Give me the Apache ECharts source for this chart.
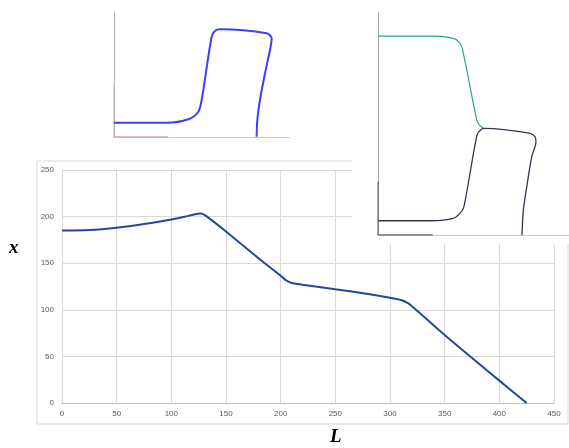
<!DOCTYPE html>
<html>
<head>
<meta charset="utf-8">
<script src="https://cdn.jsdelivr.net/npm/echarts@6/dist/echarts.min.js"></script>
<style>
  html, body { margin: 0; padding: 0; background: #fff; }
  #chart { width: 569px; height: 448px; }
</style>
</head>
<body>
<div id="chart"></div>
<script>
// main chart: L vs x
const mainL = [0, 25, 50, 75, 100, 112, 122, 127, 132, 150, 180, 200, 205, 210, 220, 250, 280, 300, 310, 316, 322, 350, 400, 425];
const mainX = [185, 185.5, 188, 192, 197, 199.8, 202.6, 203.3, 200.5, 184, 155, 136.5, 131.5, 128.8, 127, 122, 117, 113, 110.5, 107.5, 102, 73, 24, 0];
const xTicks = [0, 50, 100, 150, 200, 250, 300, 350, 400, 450];
const yTicks = [0, 50, 100, 150, 200, 250];

// left inset (unitless 0..100)
const leftU = [0, 30.1, 42.5, 48.2, 50.1, 55.8, 57.7, 60.6, 87.3, 90.1, 89.5, 86.3, 83.4, 81.9, 81.5];
const leftV = [11.4, 11.4, 14.2, 20.2, 29.6, 80.2, 84.8, 86.2, 83, 79, 72.2, 51, 29.6, 13.6, 0.2];
const leftGreenAxis = [[0, 0], [0, 42]];
const leftRedAxis = [[0, 0], [31, 0]];

// right inset (unitless 0..100)
const tealU = [0.2, 29, 39.4, 42.9, 44.7, 51.7, 53.4, 55.5];
const tealV = [89.2, 89.2, 88.2, 86, 81.5, 51.6, 48.9, 47.8];
const darkU = [0.2, 28.1, 39.4, 42.9, 45, 51.8, 53.7, 56, 79.6, 82.2, 82.7, 80.5, 77.9, 76.1, 75.4];
const darkV = [6.4, 6.4, 7.5, 9.7, 12.7, 44.8, 47.1, 47.8, 45.6, 44.1, 41.8, 35.1, 21.7, 11.2, 0];
const rightDarkYAxis = [[0, 0], [0, 24]];
const rightDarkXAxis = [[0, 0], [28.6, 0]];

const zip = (a, b) => a.map((v, i) => [v, b[i]]);

const chart = echarts.init(document.getElementById('chart'));

const insetAxis = (idx, color) => ({
  type: 'value', gridIndex: idx, min: 0, max: 100, z: 10,
  axisLine: { show: true, lineStyle: { color: color, width: 1 } },
  axisTick: { show: false }, axisLabel: { show: false }, splitLine: { show: false }
});

const option = {
  animation: false,
  backgroundColor: '#fff',
  graphic: [
    {
      type: 'rect', z: 0,
      shape: { x: 37, y: 161, width: 531, height: 263 },
      style: { fill: 'none', stroke: '#d9d9d9', lineWidth: 1 }
    },
    {
      type: 'rect', z: 5,
      shape: { x: 352, y: 0, width: 217, height: 244 },
      style: { fill: '#fff' }
    },
    {
      type: 'text', left: 9, top: 239,
      style: { text: 'x', font: 'italic bold 19px "Liberation Serif"', fill: '#000' }
    },
    {
      type: 'text', left: 330, top: 428,
      style: { text: 'L', font: 'italic bold 19px "Liberation Serif"', fill: '#000' }
    }
  ],
  grid: [
    { left: 62, top: 170, right: 15, bottom: 45 },
    { left: 114, top: 12, width: 175, height: 125 },
    { left: 378, top: 12, width: 191, height: 223 }
  ],
  xAxis: [
    {
      type: 'value', gridIndex: 0, min: 0, max: 450, interval: 50,
      axisLine: { lineStyle: { color: '#bfbfbf' } },
      axisTick: { show: false },
      axisLabel: { color: '#595959', fontSize: 8, margin: 7, fontFamily: 'Liberation Sans' },
      splitLine: { show: true, lineStyle: { color: '#d9d9d9' } }
    },
    insetAxis(1, '#c8c8c8'),
    insetAxis(2, '#c8c8c8')
  ],
  yAxis: [
    {
      type: 'value', gridIndex: 0, min: 0, max: 250, interval: 50,
      axisLine: { show: true, lineStyle: { color: '#d9d9d9' } },
      axisTick: { show: false },
      axisLabel: { color: '#595959', fontSize: 8, margin: 8, fontFamily: 'Liberation Sans' },
      splitLine: { show: true, lineStyle: { color: '#d9d9d9' } }
    },
    insetAxis(1, '#b4b4b4'),
    insetAxis(2, '#a8a8a8')
  ],
  series: [
    {
      type: 'line', xAxisIndex: 0, yAxisIndex: 0, z: 3,
      data: zip(mainL, mainX), smooth: 0.25, symbol: 'none',
      lineStyle: { color: '#27479a', width: 2 }
    },
    {
      type: 'line', xAxisIndex: 1, yAxisIndex: 1, z: 11,
      data: leftGreenAxis, symbol: 'none',
      lineStyle: { color: '#9dbf9d', width: 1 }
    },
    {
      type: 'line', xAxisIndex: 1, yAxisIndex: 1, z: 11,
      data: leftRedAxis, symbol: 'none',
      lineStyle: { color: '#d6a8a8', width: 1.5 }
    },
    {
      type: 'line', xAxisIndex: 1, yAxisIndex: 1, z: 12,
      data: zip(leftU, leftV), smooth: 0.3, symbol: 'none',
      lineStyle: { color: '#3d3dfa', width: 2 }
    },
    {
      type: 'line', xAxisIndex: 2, yAxisIndex: 2, z: 11,
      data: rightDarkYAxis, symbol: 'none',
      lineStyle: { color: '#555566', width: 1 }
    },
    {
      type: 'line', xAxisIndex: 2, yAxisIndex: 2, z: 11,
      data: rightDarkXAxis, symbol: 'none',
      lineStyle: { color: '#6a6a70', width: 1.5 }
    },
    {
      type: 'line', xAxisIndex: 2, yAxisIndex: 2, z: 12,
      data: zip(tealU, tealV), smooth: 0.3, symbol: 'none',
      lineStyle: { color: '#2fa39a', width: 1.2 }
    },
    {
      type: 'line', xAxisIndex: 2, yAxisIndex: 2, z: 12,
      data: zip(darkU, darkV), smooth: 0.3, symbol: 'none',
      lineStyle: { color: '#35334f', width: 1.3 }
    }
  ]
};

chart.setOption(option);
window.addEventListener('resize', () => chart.resize());
</script>
</body>
</html>
